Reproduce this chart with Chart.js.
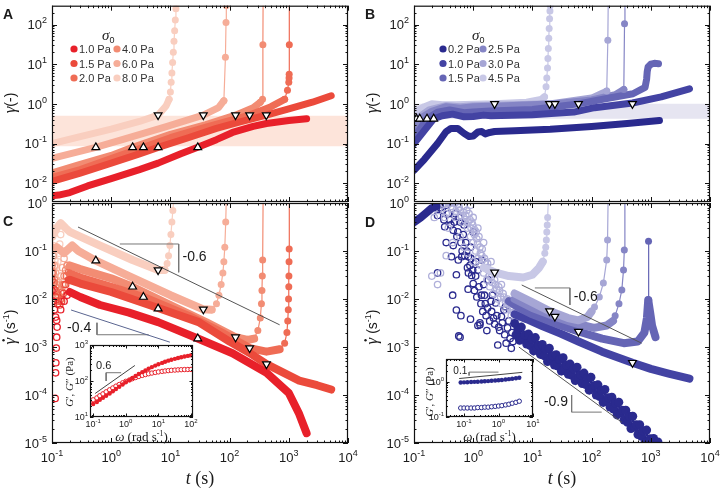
<!DOCTYPE html>
<html>
<head>
<meta charset="utf-8">
<title>Creep of two gels</title>
<script src="https://cdn.jsdelivr.net/npm/chart.js@4.4.1/dist/chart.umd.min.js"></script>
<style>
  html, body { margin: 0; padding: 0; background: #fff; }
  #fig { position: relative; width: 723px; height: 491px; overflow: hidden; background: #fff; }
  #fig canvas { position: absolute; }
</style>
</head>
<body>
<div id="fig">
  <canvas id="panelC" width="362" height="296" style="left:0px;top:195px"></canvas>
  <canvas id="panelD" width="361" height="296" style="left:362px;top:195px"></canvas>
  <canvas id="panelA" width="362" height="210" style="left:0px;top:0px"></canvas>
  <canvas id="panelB" width="361" height="210" style="left:362px;top:0px"></canvas>
  <canvas id="insetC" width="145" height="110" style="left:60px;top:335px"></canvas>
  <canvas id="insetD" width="125" height="95" style="left:420px;top:350px"></canvas>
</div>
<script>
// ---------- legend names and colours ----------
const stressRed = ['1.0 Pa', '1.5 Pa', '2.0 Pa', '4.0 Pa', '6.0 Pa', '8.0 Pa'];
const stressBlue = ['0.2 Pa', '1.0 Pa', '1.5 Pa', '2.5 Pa', '3.0 Pa', '4.5 Pa'];
const reds = ['#e8202a', '#eb4a3b', '#ef6c55', '#f28c73', '#f6ad98', '#f9cebf'];
const blues = ['#2a2a8e', '#4343a3', '#6565b5', '#8585c5', '#a6a6d5', '#c8c8e6'];

// tick exponents
const tExp = [-1, 0, 1, 2, 3, 4];
const strainExp = [-2, -1, 0, 1, 2];
const rateExp = [-5, -4, -3, -2, -1, 0];

// ---------- A: strain, red system  [t (s), gamma] ----------
const gA10 = [[0.1,0.0048],[0.13,0.005],[0.2,0.0058],[0.4,0.0085],[1,0.013],[3,0.022],[6.2,0.032],[15,0.055],[29,0.08],[60,0.125],[112,0.19],[250,0.27],[420,0.32],[1000,0.38],[2000,0.42]];
const gA15 = [[0.1,0.011],[0.3,0.018],[1,0.032],[3,0.055],[6.2,0.08],[20,0.14],[60,0.24],[150,0.35],[417,0.52],[1000,0.75],[2500,1.1],[5200,1.6]];
const gA20 = [[0.1,0.014],[0.3,0.022],[1,0.042],[3.5,0.08],[10,0.14],[40,0.26],[100,0.38],[218,0.52],[500,0.85],[850,1.3]];
const upA20 = [[850,1.3],[950,2.2],[1000,3.5],[1010,4.5],[1015,5.6],[1020,31],[1025,400]];
const gA40 = [[0.1,0.018],[0.3,0.03],[1,0.05],[2.3,0.08],[10,0.17],[40,0.3],[126,0.52],[250,0.8],[330,1.1]];
const upA40 = [[330,1.1],[360,1.3],[365,31],[368,400]];
const gA60 = [[0.1,0.042],[0.2,0.055],[0.55,0.08],[2,0.14],[8,0.26],[36,0.52],[65,0.8],[80,1.2]];
const upA60 = [[80,1.2],[85,15],[87,112],[88,300]];
const gA80 = [[0.1,0.1],[0.3,0.15],[1,0.23],[3,0.36],[6.2,0.52],[8.5,0.9],[9.5,1.3]];
const upA80 = [[9.5,1.3],[10,2],[10.3,3.5],[10.6,6],[10.9,11],[11.2,20],[11.5,38],[11.8,70],[12.1,130],[12.4,250],[12.6,330]];
const onsetA = [[0.55,0.08],[2.3,0.08],[3.5,0.08],[6.2,0.08],[29,0.08]];
const yieldA = [[6.2,0.52],[36,0.52],[126,0.52],[218,0.52],[417,0.52]];
const windowA = [[0.1,0.5],[10000,0.5]];
const windowALow = 0.085;

// ---------- B: strain, blue system ----------
const gB02 = [[0.1,0.021],[0.15,0.04],[0.25,0.1],[0.35,0.2],[0.42,0.24],[0.55,0.24],[0.7,0.18],[0.85,0.15],[1.0,0.155],[1.2,0.195],[1.4,0.2],[1.6,0.175],[1.9,0.19],[2.3,0.2],[5,0.21],[20,0.23],[100,0.27],[400,0.32],[1400,0.38]];
const gB10 = [[0.1,0.1],[0.215,0.42],[0.3,0.5],[0.45,0.55],[0.7,0.47],[1,0.48],[1.5,0.52],[2,0.5],[10,0.53],[50,0.62],[112,0.8],[490,1.05],[1500,1.5],[4500,2.4]];
const gB15 = [[0.1,0.14],[0.166,0.42],[0.25,0.62],[0.4,0.7],[0.7,0.6],[1,0.62],[2,0.66],[10,0.72],[60,1.0],[200,1.4],[500,1.8],[800,2.6],[850,4.2],[870,6.5],[900,8.5],[1000,10],[1150,10.5],[1350,10.3]];
const gB25 = [[0.1,0.25],[0.125,0.42],[0.2,0.65],[0.35,0.85],[0.6,0.78],[1,0.85],[3,0.88],[24,1.0],[100,1.25],[250,1.7],[350,2.3]];
const upB25 = [[350,2.3],[360,105],[366,400]];
const gB30 = [[0.1,0.34],[0.11,0.42],[0.18,0.7],[0.35,0.9],[0.6,0.85],[1,0.9],[5,0.95],[19.5,1.0],[100,1.4],[180,2.1]];
const upB30 = [[180,2.1],[188,40],[191,400]];
const gB45 = [[0.1,0.6],[0.15,0.85],[0.2,1.0],[0.3,0.95],[0.5,0.95],[2.3,1.0],[8,1.1],[14,1.3],[16,1.5]];
const upB45 = [[16,1.5],[17,2.7],[17.5,4.5],[18,8],[18.3,14],[18.6,25],[18.9,45],[19.2,80],[19.5,140],[19.8,220],[20,300]];
const onsetB = [[0.11,0.42],[0.125,0.42],[0.166,0.42],[0.215,0.42]];
const yieldB = [[2.3,1.0],[19.5,1.0],[24,1.0],[60,1.0],[490,1.0]];
const windowB = [[0.1,1.0],[10000,1.0]];
const windowBLow = 0.42;

// ---------- C: shear rate, red system [t (s), rate (1/s)] ----------
const rC10 = [[0.2,0.014],[0.3,0.011],[0.65,0.0075],[2,0.0052],[6.2,0.0033],[29,0.0015],[112,0.00074],[420,0.00029],[1000,0.00011],[1500,0.00004],[2000,0.000016]];
const rC15 = [[0.2,0.025],[0.3,0.021],[1,0.014],[6.2,0.0065],[30,0.0033],[100,0.0013],[218,0.00075],[420,0.00044],[1500,0.0002],[3000,0.00016],[5200,0.00013]];
const rC20 = [[0.2,0.034],[0.3,0.028],[1,0.018],[3.5,0.011],[20,0.0045],[80,0.0019],[218,0.00095],[420,0.0008],[700,0.0009]];
const upC20 = [[700,0.0009],[850,0.0012],[930,0.002],[960,0.0035],[980,0.006],[990,0.01],[1000,0.018],[1005,0.03],[1010,0.06],[1015,0.11],[1025,1.2]];
const rC40 = [[0.2,0.05],[0.3,0.042],[1,0.027],[2.3,0.018],[10,0.0075],[40,0.0033],[126,0.0016],[200,0.0014],[260,0.0015]];
const upC40 = [[260,0.0015],[300,0.0022],[330,0.004],[345,0.008],[352,0.015],[357,0.03],[362,0.065],[368,1.2]];
const rC60 = [[0.12,0.12],[0.16,0.09],[0.19,0.11],[0.22,0.13],[0.28,0.1],[0.55,0.063],[2,0.03],[10,0.012],[36,0.0061],[50,0.006]];
const upC60 = [[50,0.006],[60,0.008],[66,0.012],[72,0.02],[77,0.035],[80,0.06],[83,0.12],[86,0.4],[88,1.2]];
const rC80 = [[0.1,0.2],[0.12,0.3],[0.14,0.38],[0.17,0.3],[0.2,0.25],[0.3,0.2],[0.65,0.13],[2.3,0.065],[6.2,0.04],[8,0.04]];
const upC80 = [[8,0.04],[8.8,0.055],[9.3,0.08],[9.8,0.13],[10.2,0.22],[10.6,0.4],[11,0.7],[11.4,1.2]];
const ringsC10 = [[0.1,0.015],[0.105,0.009],[0.11,0.006],[0.115,0.0042],[0.12,0.0036],[0.122,0.0026],[0.12,0.0016],[0.118,0.00095],[0.116,0.00047],[0.115,0.00029],[0.113,0.000085],[0.14,0.006],[0.16,0.009],[0.18,0.012]];
const ringsC15 = [[0.1,0.025],[0.108,0.016],[0.115,0.011],[0.125,0.008],[0.135,0.0075],[0.145,0.009],[0.155,0.013],[0.17,0.02],[0.19,0.025]];
const ringsC20 = [[0.1,0.035],[0.108,0.022],[0.115,0.015],[0.122,0.011],[0.13,0.009],[0.14,0.01],[0.15,0.014],[0.16,0.02],[0.175,0.03],[0.19,0.036]];
const ringsC40 = [[0.1,0.05],[0.105,0.035],[0.11,0.025],[0.115,0.018],[0.12,0.014],[0.13,0.012],[0.14,0.014],[0.15,0.02],[0.16,0.03],[0.17,0.04],[0.18,0.05]];
const ringsC60 = [[0.1,0.12],[0.105,0.08],[0.11,0.05],[0.115,0.035],[0.12,0.025],[0.125,0.02],[0.13,0.022],[0.14,0.03],[0.15,0.045],[0.16,0.07],[0.17,0.1]];
const ringsC80 = [[0.1,0.3],[0.102,0.2],[0.105,0.13],[0.108,0.09],[0.112,0.065],[0.116,0.05],[0.12,0.045],[0.125,0.06],[0.13,0.09],[0.135,0.14],[0.14,0.22]];
const onsetC = [[0.55,0.063],[2.3,0.018],[3.5,0.011],[6.2,0.0063],[29,0.0015]];
const yieldC = [[6.2,0.04],[36,0.0061],[126,0.0016],[218,0.00095],[420,0.00044]];
const slopeC06 = [[0.275,0.316],[700,0.0029]];
const stepC06 = [[1.4,0.14],[13.8,0.14],[13.8,0.036]];
const slopeC04 = [[0.21,0.0059],[9.8,0.00126]];
const stepC04 = [[0.575,0.0032],[0.575,0.0018],[4.3,0.0018]];

// ---------- D: shear rate, blue system ----------
const rD02early = [[0.1,0.4],[0.13,0.5],[0.16,0.62],[0.2,0.78],[0.24,0.85]];
const rD02 = [[5,0.0031],[5.3,0.0018],[5.7,0.0024],[6.1,0.00138],[6.5,0.0026],[7,0.00156],[7.5,0.00178],[8,0.00115],[8.6,0.00186],[9.2,0.00107],[9.8,0.00146],[10.5,0.00083],[11.2,0.00157],[12,0.00095],[12.8,0.00109],[13.7,0.0007],[14.7,0.00113],[15.7,0.00066],[16.8,0.00089],[18,0.0005],[19.3,0.00094],[20.6,0.00057],[22,0.00066],[23.6,0.00042],[25.2,0.00069],[27,0.0004],[28.9,0.00055],[30.9,0.000315],[33,0.0006],[35.4,0.00036],[37.8,0.00042],[40.5,0.00027],[43.3,0.00044],[46.3,0.000256],[49.6,0.00035],[53,0.0002],[56.8,0.00038],[60.7,0.000234],[65,0.000264],[69.5,0.000173],[74.4,0.000286],[79.6,0.000165],[85.2,0.000224],[91.1,0.000126],[97.5,0.000234],[104,0.00014],[112,0.000158],[120,0.0001],[128,0.000163],[137,0.000093],[146,0.000124],[157,0.00007],[168,0.00013],[179,0.000077],[192,0.000088],[205,0.000056],[220,0.00009],[235,0.000051],[252,0.000068],[269,0.0000385],[288,0.000071],[308,0.000042],[330,0.000048],[353,0.00003],[378,0.000048],[404,0.000027],[432,0.000036],[463,0.00002],[495,0.000036],[530,0.0000216],[567,0.000024],[607,0.000015],[649,0.000024],[695,0.0000138],[743,0.000018],[795,0.00001],[851,0.0000186],[910,0.000011],[974,0.0000123],[1040,0.0000078],[1115,0.0000124],[1190,0.000007],[1275,0.0000092],[1320,0.0000105]];
const rD10 = [[5,0.0048],[8,0.0038],[15,0.0027],[30,0.0019],[60,0.0013],[150,0.0008],[490,0.00047],[1000,0.00035],[2000,0.00028],[4500,0.00022]];
const rD15 = [[4,0.009],[6,0.0065],[10,0.0048],[30,0.0028],[60,0.0021],[150,0.0015],[350,0.0012],[600,0.0013],[780,0.002],[860,0.004],[905,0.0095],[925,0.0095],[980,0.005],[1050,0.0028],[1200,0.0016]];
const upD15 = [[905,0.0095],[915,0.16],[925,0.0095]];
const rD25 = [[5,0.01],[10,0.0065],[24,0.0043],[60,0.003],[110,0.0025],[180,0.0028],[230,0.0035]];
const upD25 = [[230,0.0035],[250,0.0045],[290,0.008],[324,0.0154],[346,0.04],[357,0.105],[365,1.2]];
const rD30 = [[5,0.013],[10,0.0085],[19.5,0.0056],[40,0.004],[60,0.0036],[85,0.0042],[100,0.0055]];
const upD30 = [[100,0.0055],[112,0.0068],[135,0.011],[158,0.0215],[180,0.065],[186,0.17],[190,1.2]];
const rD45 = [[1.5,0.045],[2.3,0.036],[4,0.03],[7,0.028],[10,0.032],[13,0.045],[15,0.06]];
const upD45 = [[15,0.06],[16.2,0.09],[16.8,0.12],[17.2,0.17],[17.5,0.25],[17.8,0.35],[18.1,0.5],[18.6,1.2]];
const ringsDdark = [[0.25,0.55],[0.3,0.7],[0.33,0.32],[0.35,0.9],[0.4,0.45],[0.43,0.076],[0.46,0.27],[0.46,0.13],[0.5,0.6],[0.52,0.032],[0.52,0.0059],[0.53,0.2],[0.56,0.065],[0.57,0.0017],[0.6,0.0016],[0.64,0.076],[0.65,0.1],[0.7,0.35],[0.75,0.15],[0.82,0.016],[0.83,0.035],[0.83,0.076],[0.9,0.12],[0.94,0.031],[1.0,0.021],[1.0,0.25],[1.1,0.06],[1.2,0.04],[1.3,0.0032],[1.3,0.0029],[1.38,0.012],[1.4,0.065],[1.5,0.02],[1.7,0.0022],[1.8,0.025],[2.0,0.009],[2.1,0.012],[2.4,0.0083],[2.7,0.0026],[3.0,0.0043],[3.3,0.006],[3.5,0.0069],[4.0,0.0035],[4.4,0.00094],[5.1,0.0031],[0.25,0.035],[0.35,0.15],[0.6,0.4],[1.6,0.008],[2.2,0.004],[4.5,0.002],
  [0.28,0.8],[0.32,0.45],[0.38,0.6],[0.42,0.35],[0.48,0.4],[0.55,0.25],[0.58,0.5],[0.62,0.15],[0.68,0.22],[0.72,0.08],[0.78,0.1],[0.8,0.045],[0.88,0.05],[0.92,0.07],[0.98,0.04],[1.05,0.015],[1.1,0.03],[1.15,0.011],[1.25,0.018],[1.35,0.008],[1.45,0.0055],[1.55,0.012],[1.65,0.0045],[1.75,0.0065],[1.9,0.0035],[2.05,0.0055],[2.3,0.003],[2.5,0.0045],[2.8,0.0022],[3.1,0.0032],[3.4,0.0018],[3.8,0.0025],[4.2,0.0015],[4.7,0.0013],[0.45,0.012],[0.62,0.0045],[0.9,0.0038],[2.6,0.0011],[3.6,0.0012],[1.2,0.0028]];
const ringsDlight = [[0.3,0.9],[0.35,0.6],[0.4,1.0],[0.45,0.75],[0.5,0.5],[0.55,0.95],[0.6,0.7],[0.65,0.4],[0.7,0.85],[0.75,0.55],[0.8,0.3],[0.85,0.6],[0.9,0.2],[0.95,0.4],[1.0,0.15],[1.05,0.28],[1.1,0.1],[1.15,0.18],[1.2,0.07],[1.3,0.12],[1.35,0.05],[1.4,0.08],[1.5,0.035],[1.6,0.06],[1.7,0.025],[1.8,0.04],[1.9,0.018],[2.0,0.028],[2.2,0.013],[2.4,0.02],[2.6,0.01],[2.8,0.015],[3.0,0.008],[3.3,0.011],[3.6,0.006],[4.0,0.008],[4.4,0.0045],[4.8,0.006],[5.2,0.0035],[0.25,0.02],[0.28,0.035],[0.6,0.2],[0.7,0.12],[0.8,0.09],[1.0,0.06],[0.45,0.15],[1.2,0.3],[1.5,0.15],[2,0.06],[2.5,0.035],[3,0.02],[0.9,0.9],[1.0,0.5],[0.33,0.5],[0.38,0.3],
  [0.22,0.5],[0.26,0.7],[0.32,0.95],[0.42,0.85],[0.48,1.0],[0.52,0.65],[0.58,0.8],[0.62,0.55],[0.68,0.65],[0.72,0.45],[0.78,0.7],[0.82,0.4],[0.88,0.45],[0.92,0.3],[0.98,0.35],[1.05,0.22],[1.12,0.25],[1.18,0.14],[1.25,0.2],[1.32,0.09],[1.42,0.11],[1.55,0.07],[1.65,0.045],[1.75,0.055],[1.85,0.03],[1.95,0.038],[2.1,0.022],[2.3,0.025],[2.5,0.016],[2.7,0.018],[2.9,0.011],[3.2,0.013],[3.5,0.009],[3.8,0.01],[4.2,0.0065],[4.6,0.007],[5,0.005],[5.5,0.0045],[0.2,0.03],[0.35,0.08]];
const yieldD = [[2.3,0.036],[19.5,0.0056],[24,0.0043],[60,0.0021],[490,0.00047]];
const slopeD06 = [[6.6,0.0196],[700,0.0012]];
const stepD06 = [[11,0.017],[43,0.017],[43,0.0075]];
const slopeD09 = [[5.9,0.001],[324,0.000027]];
const stepD09 = [[46,0.0001],[46,0.000044],[148,0.000044]];

// ---------- insets: oscillatory moduli ----------
const omegaC = [0.1,0.13,0.16,0.2,0.25,0.32,0.4,0.5,0.63,0.8,1,1.3,1.6,2,2.5,3.2,4,5,6.3,8,10,13,16,20,25,32,40,50,63,80,100];
const storageC = [23,26,30,34,39,45,52,60,69,80,92,106,121,138,156,176,197,219,243,268,293,318,343,367,390,413,435,456,477,498,520];
const lossC = [30,34,39,44,50,57,64,72,80,89,98,107,116,125,134,143,151,159,166,173,179,185,190,194,198,201,204,206,208,209,210];
const slopeInC = [[0.115,45],[1.9,270]];
const stepInC = [[0.72,170],[0.25,170],[0.25,100]];
const omegaD = [0.08,0.1,0.125,0.16,0.2,0.25,0.32,0.4,0.5,0.63,0.8,1,1.25,1.6,2,2.5,3.2,4];
const storageD = [0.95,0.96,0.97,0.98,0.99,1.0,1.01,1.03,1.04,1.06,1.08,1.1,1.12,1.15,1.18,1.21,1.25,1.3];
const lossD = [0.18,0.18,0.18,0.18,0.18,0.185,0.185,0.19,0.19,0.195,0.2,0.205,0.21,0.22,0.23,0.245,0.26,0.28];
const slopeInD = [[0.072,1.23],[4.9,1.84]];
const stepInD = [[1.0,1.87],[0.14,1.87],[0.14,1.5]];

// ---------- helpers ----------
const SANS = '"Liberation Sans", Arial, Helvetica, sans-serif';
const SERIF = '"Liberation Serif", "DejaVu Serif", "Times New Roman", serif';
const INK = '#1a1a1a';

const pts = a => a.map(p => ({ x: p[0], y: p[1] }));
const zipPts = (xs, ys) => xs.map((x, i) => ({ x: x, y: ys[i] }));

function band(a, color, w) {
  return { data: pts(a), showLine: true, borderColor: color, backgroundColor: color, borderWidth: w || 7,
    pointRadius: 0, borderCapStyle: 'round', borderJoinStyle: 'round', clip: 0 };
}
function upturn(a, color) {
  return { data: pts(a), showLine: true, borderColor: color, borderWidth: 1.2, pointRadius: 3.5,
    pointBackgroundColor: color, pointBorderColor: color, pointBorderWidth: 0, clip: 0 };
}
function noisy(a, color) {
  return { data: pts(a), showLine: true, borderColor: color, borderWidth: 1.5, pointRadius: 4.5,
    pointBackgroundColor: color, pointBorderColor: color, pointBorderWidth: 0, clip: 0 };
}
function rings(a, color) {
  return { data: pts(a), showLine: false, pointRadius: 3.2, pointBackgroundColor: 'rgba(255,255,255,0)',
    pointBorderColor: color, pointBorderWidth: 1.3, clip: 0 };
}
function marks(a, down) {
  return { data: pts(a), showLine: false, pointStyle: 'triangle', pointRotation: down ? 180 : 0, pointRadius: 4.5,
    pointBackgroundColor: '#fff', pointBorderColor: '#000', pointBorderWidth: 1.2, clip: 0 };
}
function guide(a, color) {
  return { data: pts(a), showLine: true, borderColor: color, borderWidth: 1, pointRadius: 0, clip: 0 };
}
function shade(a, lo, color) {
  return { data: pts(a), showLine: true, borderWidth: 0, borderColor: color, pointRadius: 0,
    backgroundColor: color, fill: { value: lo }, clip: 0 };
}

// draws text made of several font runs, returns start x
function runs(ctx, parts, x, y, align) {
  let w = 0;
  parts.forEach(p => { ctx.font = p.f; p.w = ctx.measureText(p.t).width; w += p.w; });
  let cx = align === 'center' ? x - w / 2 : align === 'right' ? x - w : x;
  const x0 = cx;
  ctx.textAlign = 'left'; ctx.textBaseline = 'alphabetic';
  parts.forEach(p => { ctx.font = p.f; ctx.fillText(p.t, cx, y + (p.dy || 0)); cx += p.w; });
  return x0;
}
function powLabel(ctx, e, x, y, align, fs) {
  runs(ctx, [{ t: '10', f: fs + 'px ' + SANS }, { t: String(e), f: Math.round(fs * 0.7) + 'px ' + SANS, dy: -fs * 0.45 }], x, y, align);
}
function logTicks(min, max) {
  const out = [];
  for (let e = Math.floor(Math.log10(min)) - 1; e <= Math.ceil(Math.log10(max)); e++) {
    for (let m = 1; m < 10; m++) {
      const v = m * Math.pow(10, e);
      if (v >= min * 0.999 && v <= max * 1.001) out.push([v, m === 1]);
    }
  }
  return out;
}

function makeDeco(o) {
  return {
    id: 'deco',
    beforeDatasetsDraw(chart) {
      if (!o.white) return;
      const a = chart.chartArea, ctx = chart.ctx;
      ctx.save(); ctx.fillStyle = '#fff'; ctx.fillRect(a.left, a.top, a.width, a.height); ctx.restore();
    },
    afterDatasetsDraw(chart) {
      const ctx = chart.ctx, a = chart.chartArea, sx = chart.scales.x, sy = chart.scales.y;
      ctx.save();
      ctx.strokeStyle = '#111'; ctx.lineWidth = 1;
      ctx.beginPath();
      logTicks(sx.min, sx.max).forEach(([v, major]) => {
        const p = Math.round(sx.getPixelForValue(v)) + 0.5, l = major ? o.major : o.minor;
        ctx.moveTo(p, a.bottom); ctx.lineTo(p, a.bottom - l);
        ctx.moveTo(p, a.top); ctx.lineTo(p, a.top + l);
      });
      logTicks(sy.min, sy.max).forEach(([v, major]) => {
        const p = Math.round(sy.getPixelForValue(v)) + 0.5, l = major ? o.major : o.minor;
        ctx.moveTo(a.left, p); ctx.lineTo(a.left + l, p);
        ctx.moveTo(a.right, p); ctx.lineTo(a.right - l, p);
      });
      ctx.stroke();
      ctx.lineWidth = o.frame || 1.2;
      ctx.strokeRect(a.left + 0.5, a.top + 0.5, a.width - 1, a.height - 1);
      ctx.fillStyle = INK;
      (o.xExp || []).forEach(e => powLabel(ctx, e, sx.getPixelForValue(Math.pow(10, e)), a.bottom + o.xGap, 'center', o.fs));
      (o.yExp || []).forEach(e => powLabel(ctx, e, a.left - o.yGap, sy.getPixelForValue(Math.pow(10, e)) + o.fs * 0.36, 'right', o.fs));
      (o.notes || []).forEach(n => {
        ctx.font = n.fs + 'px ' + SANS; ctx.textAlign = n.align; ctx.textBaseline = 'middle';
        ctx.fillText(n.t, sx.getPixelForValue(n.x), sy.getPixelForValue(n.y));
      });
      if (o.extra) o.extra(ctx, a, chart);
      ctx.restore();
    }
  };
}

function letter(ctx, s, x, y) {
  ctx.fillStyle = INK; ctx.font = 'bold 14px ' + SANS; ctx.textAlign = 'left'; ctx.textBaseline = 'alphabetic';
  ctx.fillText(s, x, y);
}
function strainTitle(ctx, cx, cy) {
  ctx.save(); ctx.translate(cx, cy); ctx.rotate(-Math.PI / 2); ctx.fillStyle = INK;
  runs(ctx, [{ t: 'γ', f: 'italic 17px ' + SERIF }, { t: '(-)', f: '14px ' + SANS }], 0, 5, 'center');
  ctx.restore();
}
function rateTitle(ctx, cx, cy) {
  ctx.save(); ctx.translate(cx, cy); ctx.rotate(-Math.PI / 2); ctx.fillStyle = INK;
  const parts = [{ t: 'γ', f: 'italic 17px ' + SERIF }, { t: ' (s', f: '14px ' + SANS },
    { t: '-1', f: '9px ' + SANS, dy: -6 }, { t: ')', f: '14px ' + SANS }];
  const x0 = runs(ctx, parts, 0, 5, 'center');
  ctx.beginPath(); ctx.arc(x0 + parts[0].w * 0.62, 5 - 11.5, 1.2, 0, Math.PI * 2); ctx.fill();
  ctx.restore();
}
function timeTitle(ctx, cx, y) {
  ctx.fillStyle = INK;
  runs(ctx, [{ t: 't', f: 'italic 18px ' + SERIF }, { t: ' (s)', f: '18px ' + SERIF }], cx, y, 'center');
}
function legend(ctx, a, names, colors, dx1, dx2, dxT) {
  const rows = [49, 63.5, 78];
  ctx.fillStyle = INK;
  runs(ctx, [{ t: 'σ', f: 'italic 15px ' + SERIF }, { t: '0', f: '9px ' + SANS, dy: 3 }], a.left + dxT, 40, 'left');
  names.forEach((n, i) => {
    const mx = a.left + (i < 3 ? dx1 : dx2), my = rows[i % 3];
    ctx.fillStyle = colors[i]; ctx.beginPath(); ctx.arc(mx, my, 3.6, 0, Math.PI * 2); ctx.fill();
    ctx.fillStyle = '#333'; ctx.font = '11px ' + SANS; ctx.textAlign = 'left'; ctx.textBaseline = 'alphabetic';
    ctx.fillText(n, mx + 5, my + 4);
  });
}
function omegaTitle(ctx, cx, y) {
  ctx.fillStyle = INK;
  runs(ctx, [{ t: 'ω', f: 'italic 13px ' + SERIF }, { t: ' (rad s', f: '13px ' + SERIF },
    { t: '-1', f: '8px ' + SERIF, dy: -5 }, { t: ')', f: '13px ' + SERIF }], cx, y, 'center');
}
function modTitle(ctx, cx, cy) {
  ctx.save(); ctx.translate(cx, cy); ctx.rotate(-Math.PI / 2); ctx.fillStyle = INK;
  runs(ctx, [{ t: 'G', f: 'italic 11px ' + SERIF }, { t: '′, ', f: '11px ' + SERIF },
    { t: 'G', f: 'italic 11px ' + SERIF }, { t: '″ (Pa)', f: '11px ' + SERIF }], 0, 4, 'center');
  ctx.restore();
}

function axes(xmin, xmax, ymin, ymax, yw, xh) {
  return {
    x: { type: 'logarithmic', min: xmin, max: xmax, grid: { display: false }, border: { display: false },
      ticks: { display: false }, afterFit: s => { s.height = xh; } },
    y: { type: 'logarithmic', min: ymin, max: ymax, grid: { display: false }, border: { display: false },
      ticks: { display: false }, afterFit: s => { s.width = yw; } }
  };
}
function makeChart(id, datasets, scales, padding, deco) {
  return new Chart(document.getElementById(id), {
    type: 'scatter',
    data: { datasets: datasets },
    options: {
      responsive: false, animation: false, events: [],
      layout: { padding: padding },
      plugins: { legend: { display: false }, tooltip: { enabled: false } },
      scales: scales
    },
    plugins: [makeDeco(deco)]
  });
}

const T_MIN = 0.1, T_MAX = 10000;
const G_MIN = Math.pow(10, -2.475), G_MAX = Math.pow(10, 2.475);

// ---------- panel A ----------
makeChart('panelA', [
  marks(onsetA, false), marks(yieldA, true),
  upturn(upA80, reds[5]), upturn(upA60, reds[4]), upturn(upA40, reds[3]), upturn(upA20, reds[2]),
  band(gA10, reds[0]), band(gA15, reds[1]), band(gA20, reds[2]), band(gA40, reds[3]), band(gA60, reds[4]), band(gA80, reds[5]),
  shade(windowA, windowALow, '#fde4da')
], axes(T_MIN, T_MAX, G_MIN, G_MAX, 52, 8), { left: 0, right: 14, top: 4, bottom: 0 }, {
  major: 5, minor: 2.5, fs: 13, yGap: 5, yExp: strainExp,
  extra: (ctx, a) => {
    letter(ctx, 'A', 3, 19);
    strainTitle(ctx, 10, 103);
    legend(ctx, a, stressRed, reds, 22, 65, 50);
  }
});

// ---------- panel B ----------
makeChart('panelB', [
  marks(onsetB, false), marks(yieldB, true),
  upturn(upB45, blues[5]), upturn(upB30, blues[4]), upturn(upB25, blues[3]),
  band(gB02, blues[0]), band(gB10, blues[1]), band(gB15, blues[2]), band(gB25, blues[3]), band(gB30, blues[4]), band(gB45, blues[5]),
  shade(windowB, windowBLow, '#e6e5f1')
], axes(T_MIN, T_MAX, G_MIN, G_MAX, 52, 8), { left: 0, right: 13, top: 4, bottom: 0 }, {
  major: 5, minor: 2.5, fs: 13, yGap: 5, yExp: strainExp,
  extra: (ctx, a) => {
    letter(ctx, 'B', 3, 19);
    strainTitle(ctx, 10, 103);
    legend(ctx, a, stressBlue, blues, 29, 69, 58);
  }
});

// ---------- panel C ----------
makeChart('panelC', [
  marks(onsetC, false), marks(yieldC, true),
  guide(slopeC06, '#555'), guide(stepC06, '#777'), guide(slopeC04, '#5a6590'), guide(stepC04, '#777'),
  upturn(upC80, reds[5]), upturn(upC60, reds[4]), upturn(upC40, reds[3]), upturn(upC20, reds[2]),
  band(rC10, reds[0], 8), band(rC15, reds[1], 8), band(rC20, reds[2], 8), band(rC40, reds[3], 8), band(rC60, reds[4], 8), band(rC80, reds[5], 8),
  rings(ringsC10, reds[0]), rings(ringsC15, reds[1]), rings(ringsC20, reds[2]),
  rings(ringsC40, reds[3]), rings(ringsC60, reds[4]), rings(ringsC80, reds[5])
], axes(T_MIN, T_MAX, 1e-5, 1, 52, 48), { left: 0, right: 14, top: 8, bottom: 0 }, {
  major: 5, minor: 2.5, fs: 13, yGap: 5, xGap: 19, yExp: rateExp, xExp: tExp,
  notes: [{ t: '-0.6', x: 16, y: 0.075, align: 'left', fs: 14 }, { t: '-0.4', x: 0.18, y: 0.0025, align: 'left', fs: 14 }],
  extra: (ctx, a) => {
    letter(ctx, 'C', 3, 31);
    rateTitle(ctx, 10, 132);
    timeTitle(ctx, (a.left + a.right) / 2, 289);
  }
});

// ---------- panel D ----------
makeChart('panelD', [
  marks(yieldD, true),
  guide(slopeD06, '#555'), guide(stepD06, '#777'), guide(slopeD09, '#555'), guide(stepD09, '#777'),
  upturn(upD45, blues[5]), upturn(upD30, blues[4]), upturn(upD25, blues[3]), upturn(upD15, blues[2]),
  band(rD45, blues[5], 8), band(rD30, blues[4], 8), band(rD25, blues[3], 8), band(rD15, blues[2], 8), band(rD10, blues[1], 8),
  noisy(rD02, blues[0]), band(rD02early, blues[0], 8),
  rings(ringsDlight, '#b0b0da'), rings(ringsDdark, blues[0])
], axes(T_MIN, T_MAX, 1e-5, 1, 52, 48), { left: 0, right: 13, top: 8, bottom: 0 }, {
  major: 5, minor: 2.5, fs: 13, yGap: 5, xGap: 19, yExp: rateExp, xExp: tExp,
  notes: [{ t: '-0.6', x: 50, y: 0.011, align: 'left', fs: 14 }, { t: '-0.9', x: 40, y: 0.00007, align: 'right', fs: 14 }],
  extra: (ctx, a) => {
    letter(ctx, 'D', 3, 32);
    rateTitle(ctx, 10, 132);
    timeTitle(ctx, (a.left + a.right) / 2, 289);
  }
});

// ---------- inset in C ----------
makeChart('insetC', [
  guide(slopeInC, '#444'), guide(stepInC, '#777'),
  { data: zipPts(omegaC, storageC), showLine: true, borderColor: reds[0], borderWidth: 1, pointRadius: 2.2,
    pointBackgroundColor: reds[0], pointBorderColor: reds[0], pointBorderWidth: 0, clip: 0 },
  { data: zipPts(omegaC, lossC), showLine: false, pointRadius: 2.2, pointBackgroundColor: '#fff',
    pointBorderColor: reds[0], pointBorderWidth: 1, clip: 0 }
], axes(0.08, 115, 10, 1000, 30, 28), { left: 0, right: 12, top: 10, bottom: 0 }, {
  white: true, major: 3.5, minor: 2, fs: 9, yGap: 2, xGap: 10, yExp: [1, 2, 3], xExp: [-1, 0, 1, 2],
  notes: [{ t: '0.6', x: 0.123, y: 270, align: 'left', fs: 11 }],
  extra: (ctx, a) => {
    omegaTitle(ctx, (a.left + a.right) / 2, 106);
    modTitle(ctx, 9, 47);
  }
});

// ---------- inset in D ----------
makeChart('insetD', [
  guide(slopeInD, '#444'), guide(stepInD, '#777'),
  { data: zipPts(omegaD, storageD), showLine: true, borderColor: blues[0], borderWidth: 1, pointRadius: 2.2,
    pointBackgroundColor: blues[0], pointBorderColor: blues[0], pointBorderWidth: 0, clip: 0 },
  { data: zipPts(omegaD, lossD), showLine: false, pointRadius: 2.2, pointBackgroundColor: '#fff',
    pointBorderColor: blues[0], pointBorderWidth: 1, clip: 0 }
], axes(0.03, 10, 0.1, 4.4, 26, 28), { left: 0, right: 12, top: 9, bottom: 0 }, {
  white: true, major: 3.5, minor: 2, fs: 9, yGap: 2, xGap: 10, yExp: [-1, 0], xExp: [-1, 0, 1],
  notes: [{ t: '0.1', x: 0.049, y: 1.96, align: 'left', fs: 10 }],
  extra: (ctx, a) => {
    omegaTitle(ctx, (a.left + a.right) / 2, 91);
    modTitle(ctx, 9, 42);
  }
});
</script>
</body>
</html>
